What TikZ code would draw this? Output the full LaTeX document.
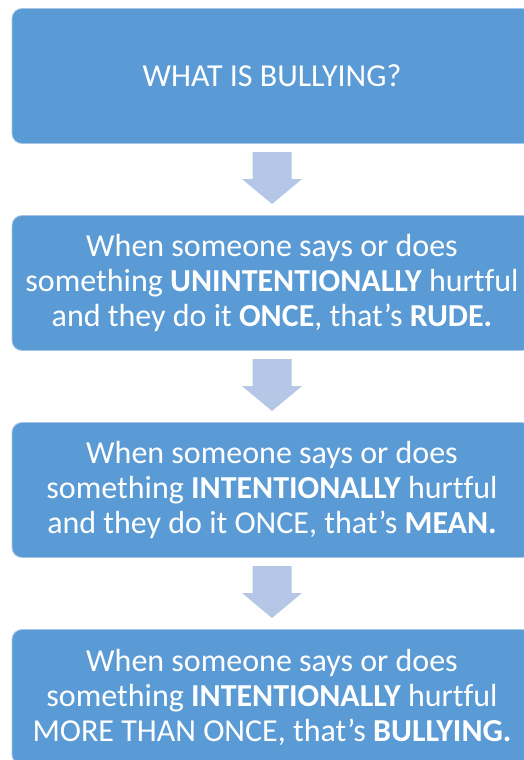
\documentclass[tikz,border=0pt]{standalone}
\usepackage{fontspec}
\setmainfont{Carlito}[Ligatures=NoCommon]
\usepackage{tikz}
\usetikzlibrary{arrows.meta,shapes,positioning,calc}
\definecolor{boxblue}{RGB}{91,155,213}
\definecolor{arrowblue}{RGB}{180,199,231}
\definecolor{edgeblue}{RGB}{165,198,232}
\tikzset{
    stepbox/.style={draw=edgeblue, line width=0.8pt, fill=boxblue, rounded corners=10pt,
        minimum width=520pt, minimum height=135pt, outer sep=0pt, inner sep=0pt,
        align=center, text=white, font=\fontsize{32}{35}\selectfont},
    blockarrow/.style={fill=arrowblue, draw=none}
}
% block arrow pointing down, centred on a coordinate
\newcommand{\downblock}[1]{\fill[blockarrow] ($(#1)+(-19.5pt,26pt)$) -- ++(39pt,0) -- ++(0,-27pt)
    -- ++(10.5pt,0) -- ++(-30pt,-25pt) -- ++(-30pt,25pt) -- ++(10.5pt,0) -- cycle;}

\begin{document}
\begin{tikzpicture}
                    \useasboundingbox (0,0) rectangle (524pt,-760pt);
                    \clip (0,0) rectangle (524pt,-760pt);
                    \node[stepbox] (what) at (272pt,-76pt) {WHAT IS BULLYING?};
                    \node[stepbox, below=72pt of what] (rude) {When someone says or does\\something \textbf{UNINTENTIONALLY} hurtful\\and they do it \textbf{ONCE}, that’s \textbf{RUDE.}};
                    \node[stepbox, below=72pt of rude] (mean) {When someone says or does\\something \textbf{INTENTIONALLY} hurtful\\and they do it ONCE, that’s \textbf{MEAN.}};
                    \node[stepbox, below=72pt of mean] (bully) {When someone says or does\\something \textbf{INTENTIONALLY} hurtful\\MORE THAN ONCE, that’s \textbf{BULLYING.}};
                    \coordinate (a1) at ($(what.south)!0.5!(rude.north)+(0,1.5pt)$);
                    \coordinate (a2) at ($(rude.south)!0.5!(mean.north)+(0,1.5pt)$);
                    \coordinate (a3) at ($(mean.south)!0.5!(bully.north)+(0,1.5pt)$);
                    \downblock{a1}
                    \downblock{a2}
                    \downblock{a3}
                \end{tikzpicture}
\end{document}
